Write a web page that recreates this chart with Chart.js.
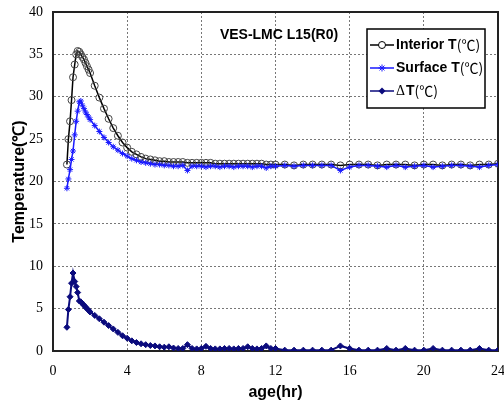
<!DOCTYPE html>
<html>
<head>
<meta charset="utf-8">
<script src="https://cdn.jsdelivr.net/npm/chart.js@4.4.1/dist/chart.umd.min.js"></script>
<style>
    html, body { margin: 0; padding: 0; background: #fff; }
    #wrap { width: 504px; height: 410px; }
</style>
</head>
<body>
<div id="wrap"><canvas id="tempChart" width="504" height="410"></canvas></div>
<script>
// age in hours (5 min steps at first, then 15 min, then 30 min after 12 hr)
const ages = [
    0.75, 0.83, 0.92, 1.00, 1.08, 1.17, 1.25, 1.33, 1.42, 1.50, 1.58, 1.67, 1.75, 1.83, 1.92, 2.00,
    2.25, 2.5, 2.75, 3.0, 3.25, 3.5, 3.75, 4.0, 4.25, 4.5, 4.75, 5.0, 5.25, 5.5, 5.75, 6.0,
    6.25, 6.5, 6.75, 7.0, 7.25, 7.5, 7.75, 8.0, 8.25, 8.5, 8.75, 9.0, 9.25, 9.5, 9.75, 10.0,
    10.25, 10.5, 10.75, 11.0, 11.25, 11.5, 11.75, 12.0,
    12.5, 13, 13.5, 14, 14.5, 15, 15.5, 16, 16.5, 17, 17.5, 18,
    18.5, 19, 19.5, 20, 20.5, 21, 21.5, 22, 22.5, 23, 23.5, 24
];
const interiorT = [
    22.0, 25.0, 27.1, 29.6, 32.3, 33.8, 35.0, 35.4, 35.3, 35.0, 34.7, 34.4, 34.0, 33.6, 33.2, 32.8,
    31.3, 29.9, 28.6, 27.4, 26.3, 25.4, 24.6, 24.0, 23.5, 23.2, 22.9, 22.7, 22.6, 22.5, 22.4, 22.4,
    22.3, 22.3, 22.3, 22.3, 22.2, 22.2, 22.2, 22.2, 22.2, 22.2, 22.1, 22.1, 22.1, 22.1, 22.1, 22.1,
    22.1, 22.1, 22.1, 22.1, 22.1, 22.0, 22.0, 22.0,
    22.0, 21.9, 22.0, 22.0, 22.0, 22.0, 21.9, 22.0, 22.0, 22.0, 21.9, 22.0,
    22.0, 22.0, 21.9, 22.0, 22.0, 21.9, 22.0, 22.0, 21.9, 22.0, 22.0, 22.1
];
const surfaceT = [
    19.2, 20.3, 21.4, 22.6, 23.6, 25.5, 27.1, 28.3, 29.4, 29.5, 29.0, 28.6, 28.2, 27.9, 27.6, 27.3,
    26.6, 25.9, 25.2, 24.6, 24.1, 23.7, 23.3, 23.0, 22.7, 22.5, 22.3, 22.2, 22.1, 22.0, 22.0, 21.9,
    21.9, 21.8, 21.8, 21.9, 21.3, 21.8, 21.8, 21.8, 21.7, 21.8, 21.8, 21.7, 21.8, 21.8, 21.7, 21.8,
    21.8, 21.8, 21.7, 21.8, 21.8, 21.6, 21.8, 21.8,
    21.9, 21.8, 21.9, 21.9, 21.9, 21.9, 21.3, 21.7, 21.9, 21.9, 21.8, 21.7,
    21.9, 21.7, 21.8, 21.9, 21.7, 21.8, 21.9, 21.9, 21.8, 21.7, 21.9, 22.0
];
const deltaT = [
    2.8, 4.9, 6.4, 8.0, 9.2, 8.2, 7.6, 6.9, 5.9, 5.8, 5.6, 5.4, 5.2, 5.0, 4.8, 4.6,
    4.2, 3.8, 3.4, 3.0, 2.6, 2.2, 1.8, 1.5, 1.2, 1.0, 0.85, 0.75, 0.65, 0.6, 0.5, 0.45,
    0.5, 0.35, 0.3, 0.3, 0.75, 0.3, 0.25, 0.3, 0.55, 0.3, 0.25, 0.25, 0.3, 0.3, 0.25, 0.3,
    0.3, 0.5, 0.3, 0.25, 0.3, 0.6, 0.3, 0.3,
    0.1, 0.1, 0.1, 0.1, 0.1, 0.1, 0.6, 0.3, 0.1, 0.1, 0.1, 0.3,
    0.1, 0.3, 0.1, 0.1, 0.3, 0.1, 0.1, 0.1, 0.1, 0.3, 0.1, 0.1
];
const seriesNames = ['Interior T', 'Surface T', '\u0394 T'];
const chartTitle = 'VES-LMC L15(R0)';

const INTERIOR_COLOR = '#000000';
const SURFACE_COLOR = '#1a1aff';
const DELTA_COLOR = '#0b0b7d';

function toPoints(values) {
    return ages.map((a, i) => ({ x: a, y: values[i] }));
}

// plot frame, title and the in-plot legend
const framePlugin = {
    id: 'frame',
    beforeDatasetsDraw(chart) {
        const { ctx, chartArea: a } = chart;
        ctx.save();
        ctx.strokeStyle = '#222';
        ctx.lineWidth = 2;
        ctx.strokeRect(a.left, a.top, a.right - a.left, a.bottom - a.top);
        ctx.restore();
    },
    afterDraw(chart) {
        const ctx = chart.ctx;
        ctx.save();
        // title
        ctx.fillStyle = '#000';
        ctx.font = 'bold 14px "Liberation Sans", Arial, sans-serif';
        ctx.textAlign = 'center';
        ctx.textBaseline = 'middle';
        ctx.fillText(chartTitle, 279, 35);

        // legend box
        const bx = 367, by = 29, bw = 118, bh = 79;
        ctx.fillStyle = '#fff';
        ctx.fillRect(bx, by, bw, bh);
        ctx.strokeStyle = '#000';
        ctx.lineWidth = 1.5;
        ctx.strokeRect(bx, by, bw, bh);

        const rows = [
            { name: seriesNames[0], color: INTERIOR_COLOR, marker: 'circle', y: 45 },
            { name: seriesNames[1], color: SURFACE_COLOR, marker: 'star', y: 68 },
            { name: seriesNames[2], color: DELTA_COLOR, marker: 'diamond', y: 91 }
        ];
        rows.forEach(r => {
            const x0 = bx + 3, x1 = bx + 27, xm = (x0 + x1) / 2;
            ctx.strokeStyle = r.color;
            ctx.lineWidth = 1.5;
            ctx.beginPath();
            ctx.moveTo(x0, r.y);
            ctx.lineTo(x1, r.y);
            ctx.stroke();
            drawMarker(ctx, r.marker, xm, r.y, r.color);

            ctx.textAlign = 'left';
            ctx.textBaseline = 'middle';
            ctx.fillStyle = '#000';
            let tx = x1 + 2;
            if (r.name.startsWith('\u0394')) {
                ctx.font = '14px "Liberation Serif", serif';
                ctx.fillText('\u0394', tx, r.y);
                tx += ctx.measureText('\u0394').width + 1;
                ctx.font = 'bold 14px "Liberation Sans", Arial, sans-serif';
                ctx.fillText('T', tx, r.y);
                tx += ctx.measureText('T').width;
            } else {
                ctx.font = 'bold 14px "Liberation Sans", Arial, sans-serif';
                ctx.fillText(r.name, tx, r.y);
                tx += ctx.measureText(r.name).width;
            }
            ctx.font = '14px "Noto Sans CJK KR", "Liberation Serif", serif';
            ctx.fillText('(\u2103)', tx, r.y);
        });
        ctx.restore();
    }
};

function drawMarker(ctx, type, x, y, color) {
    ctx.save();
    ctx.lineWidth = 1;
    ctx.strokeStyle = color;
    ctx.fillStyle = color;
    ctx.beginPath();
    if (type === 'circle') {
        ctx.fillStyle = '#fff';
        ctx.arc(x, y, 3.5, 0, Math.PI * 2);
        ctx.fill();
        ctx.stroke();
    } else if (type === 'star') {
        const r = 3.5;
        ctx.moveTo(x - r, y); ctx.lineTo(x + r, y);
        ctx.moveTo(x, y - r); ctx.lineTo(x, y + r);
        ctx.moveTo(x - r * 0.7, y - r * 0.7); ctx.lineTo(x + r * 0.7, y + r * 0.7);
        ctx.moveTo(x - r * 0.7, y + r * 0.7); ctx.lineTo(x + r * 0.7, y - r * 0.7);
        ctx.stroke();
    } else {
        const r = 3.5;
        ctx.moveTo(x, y - r); ctx.lineTo(x + r, y); ctx.lineTo(x, y + r); ctx.lineTo(x - r, y);
        ctx.closePath();
        ctx.fill();
    }
    ctx.restore();
}

const tickFont = { family: '"Liberation Serif", "Times New Roman", serif', size: 14 };
const axisTitleFont = { family: '"Liberation Sans", Arial, sans-serif', size: 16, weight: 'bold' };

new Chart(document.getElementById('tempChart').getContext('2d'), {
    type: 'line',
    data: {
        datasets: [
            {
                label: seriesNames[2],
                data: toPoints(deltaT),
                borderColor: DELTA_COLOR,
                backgroundColor: DELTA_COLOR,
                borderWidth: 2,
                pointStyle: 'rectRot',
                pointRadius: 3,
                pointBorderWidth: 1,
                order: 1
            },
            {
                label: seriesNames[1],
                data: toPoints(surfaceT),
                borderColor: SURFACE_COLOR,
                backgroundColor: SURFACE_COLOR,
                borderWidth: 1.5,
                pointStyle: 'star',
                pointRadius: 3,
                pointBorderWidth: 1,
                order: 2
            },
            {
                label: seriesNames[0],
                data: toPoints(interiorT),
                borderColor: INTERIOR_COLOR,
                backgroundColor: 'rgba(255,255,255,0)',
                pointBorderColor: '#444',
                borderWidth: 1.5,
                pointStyle: 'circle',
                pointRadius: 3.5,
                pointBorderWidth: 1,
                order: 3
            }
        ]
    },
    options: {
        responsive: false,
        animation: false,
        layout: { padding: { top: 12, right: 6, left: 0, bottom: 0 } },
        plugins: {
            legend: { display: false },
            title: { display: false },
            tooltip: { enabled: false }
        },
        scales: {
            x: {
                type: 'linear',
                min: 0,
                max: 24,
                afterFit: scale => {
                    scale.height = 59;
                    scale.paddingLeft = 0;
                    scale.paddingRight = 0;
                },
                ticks: { stepSize: 4, color: '#000', font: tickFont, padding: 12, maxRotation: 0 },
                grid: { color: '#777', lineWidth: 1, drawTicks: false },
                border: { display: true, color: '#222', width: 2, dash: [2, 2] },
                title: { display: true, text: 'age(hr)', color: '#000', font: axisTitleFont, padding: { top: 0, bottom: 8 } }
            },
            y: {
                min: 0,
                max: 40,
                afterFit: scale => {
                    scale.width = 53;
                    scale.paddingTop = 0;
                    scale.paddingBottom = 0;
                },
                ticks: { stepSize: 5, color: '#000', font: tickFont, padding: 10 },
                grid: { color: '#777', lineWidth: 1, drawTicks: false },
                border: { display: true, color: '#222', width: 2, dash: [2, 2] },
                title: { display: true, text: 'Temperature(\u2103)', color: '#000', font: axisTitleFont, padding: { top: 10, bottom: 0 } }
            }
        }
    },
    plugins: [framePlugin]
});
</script>
</body>
</html>
